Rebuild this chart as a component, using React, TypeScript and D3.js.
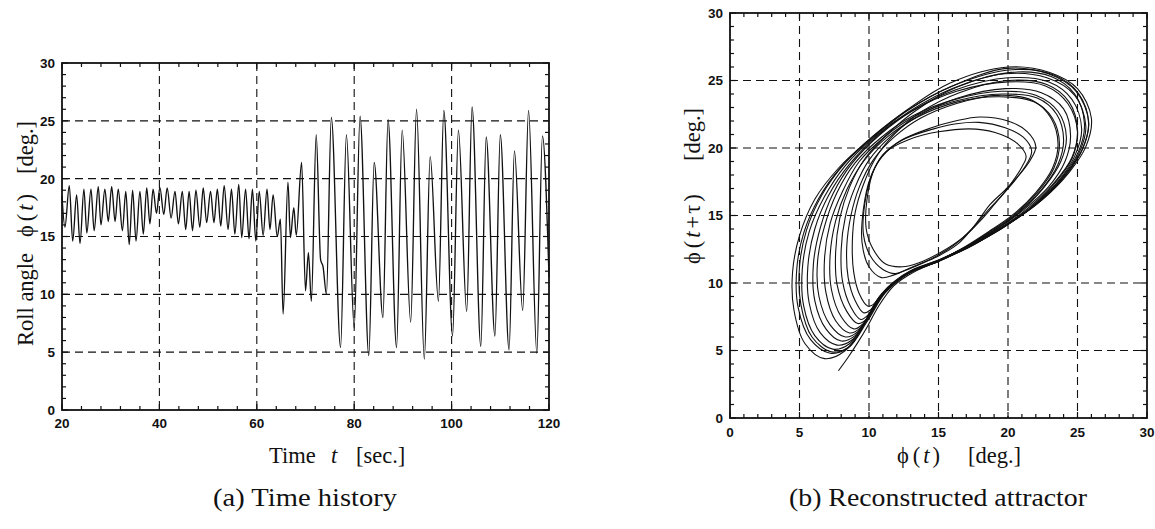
import React from 'react';
import * as d3 from 'd3';

// ---------- data ----------
const timeTicks = [20, 40, 60, 80, 100, 120];
const rollTicks = [0, 5, 10, 15, 20, 25, 30];
const attrTicks = [0, 5, 10, 15, 20, 25, 30];

// time history: turning points (time [s], roll [deg])
const seriesT = [
  20.0, 20.6, 21.5, 22.2, 23.0, 23.7, 24.5, 25.1, 25.95, 26.6, 27.45, 28.0, 28.8, 29.5, 30.2, 30.9,
  31.55, 32.4, 33.1, 33.8, 34.5, 35.2, 36.0, 36.7, 37.4, 38.05, 38.7, 39.4, 40.1, 40.9, 41.6, 42.4,
  43.2, 43.9, 44.7, 45.4, 46.1, 46.8, 47.5, 48.3, 49.0, 49.7, 50.5, 51.2, 51.9, 52.6, 53.3, 54.1,
  54.8, 55.5, 56.3, 56.9, 57.7, 58.4, 59.1, 59.8, 60.5, 61.3, 62.1, 62.7, 63.35, 64.2, 64.85, 65.4,
  66.4, 66.9, 67.6, 68.1, 69.2, 70.0, 70.6, 71.2, 72.2, 73.1, 73.6, 74.3, 75.3, 77.2, 78.4, 80.0,
  81.2, 83.0, 84.1, 85.9, 86.95, 88.7, 89.85, 91.6, 92.8, 94.4, 95.6, 97.3, 98.4, 100.2, 101.4, 103.1,
  104.2, 106.0, 107.1, 108.9, 110.0, 111.8, 112.9, 114.6, 115.8, 117.5, 118.65, 120.0,
];
const seriesRoll = [
  18.5, 15.8, 19.4, 14.6, 18.6, 14.4, 19.1, 15.3, 19.1, 15.5, 19.3, 16.0, 19.1, 16.3, 19.3, 16.3,
  19.1, 15.5, 18.9, 14.3, 19.0, 14.6, 18.9, 15.2, 19.2, 16.1, 19.1, 17.0, 19.25, 16.9, 19.2, 16.6,
  18.9, 16.1, 18.9, 15.6, 18.9, 15.5, 19.0, 15.8, 19.2, 16.2, 18.9, 16.2, 19.1, 15.9, 19.4, 15.6,
  19.1, 15.2, 19.5, 14.9, 19.1, 14.8, 19.1, 14.6, 18.9, 15.1, 19.1, 15.6, 18.6, 15.0, 16.5, 8.3,
  19.7, 14.9, 17.5, 15.1, 21.4, 10.3, 13.6, 9.4, 23.8, 13.0, 12.4, 10.0, 25.3, 5.4, 23.8, 7.1,
  25.4, 4.7, 21.4, 8.0, 25.1, 5.4, 24.2, 7.6, 26.0, 4.4, 21.9, 9.4, 25.9, 6.4, 24.2, 8.5,
  26.2, 5.5, 23.6, 6.4, 23.8, 5.2, 22.4, 8.6, 25.9, 4.9, 23.7, 11.5,
];

// reconstructed attractor: loops [phi(t), phi(t+tau)]
const loop01 = [[20.0,26.0],[23.0,25.6],[25.0,24.4],[26.0,22.2],[25.6,20.1],[24.4,18.2],[22.5,16.2],[20.2,14.5],[17.6,13.0],[15.3,11.8],[13.0,10.9],[11.2,9.4],[9.9,7.3],[8.3,5.0],[6.8,4.4],[5.4,5.5],[4.6,8.0],[4.5,10.8],[5.0,13.5],[6.1,16.2],[7.8,18.5],[10.0,20.6],[12.7,22.8],[15.8,24.8]];
const loop02 = [[20.3,25.8],[23.3,25.4],[25.1,24.0],[25.8,21.8],[25.3,19.8],[24.0,17.8],[22.1,15.9],[19.9,14.3],[17.4,12.8],[15.2,11.7],[13.0,10.8],[11.2,9.3],[9.9,7.2],[8.5,5.2],[7.2,4.8],[5.8,5.8],[4.9,8.2],[4.8,11.0],[5.3,13.7],[6.4,16.3],[8.0,18.6],[10.2,20.7],[12.8,22.8],[16.0,24.6]];
const loop03 = [[19.8,25.5],[22.8,25.2],[24.8,23.9],[25.6,21.6],[25.1,19.6],[23.8,17.6],[21.9,15.7],[19.7,14.2],[17.3,12.7],[15.1,11.7],[12.9,10.8],[11.1,9.3],[9.8,7.3],[8.6,5.5],[7.4,5.1],[6.1,6.1],[5.3,8.3],[5.2,11.0],[5.7,13.8],[6.8,16.4],[8.3,18.7],[10.4,20.8],[12.9,22.7],[16.0,24.4]];
const loop04 = [[20.0,25.2],[22.9,24.9],[24.6,23.6],[25.3,21.4],[24.8,19.4],[23.5,17.4],[21.6,15.5],[19.5,14.0],[17.2,12.7],[15.0,11.6],[12.9,10.8],[11.1,9.3],[9.9,7.4],[8.8,5.8],[7.7,5.4],[6.5,6.3],[5.7,8.5],[5.6,11.2],[6.1,14.0],[7.1,16.5],[8.6,18.8],[10.6,20.9],[13.0,22.7],[16.2,24.3]];
const loop05 = [[20.0,24.9],[22.7,24.6],[24.3,23.3],[25.0,21.2],[24.6,19.2],[23.3,17.3],[21.4,15.4],[19.3,13.9],[17.1,12.6],[14.9,11.6],[12.8,10.7],[11.1,9.3],[10.0,7.6],[9.0,6.1],[8.0,5.7],[6.9,6.6],[6.1,8.7],[6.0,11.4],[6.5,14.1],[7.4,16.6],[8.8,18.9],[10.8,21.0],[13.2,22.8],[16.3,24.2]];
const loop06 = [[19.5,24.2],[22.0,23.9],[23.6,22.7],[24.2,20.8],[23.8,19.0],[22.6,17.1],[20.9,15.3],[19.0,13.9],[16.9,12.6],[14.8,11.6],[12.8,10.7],[11.2,9.4],[10.1,7.8],[9.2,6.4],[8.3,6.0],[7.2,6.9],[6.4,9.0],[6.3,11.6],[6.8,14.2],[7.7,16.7],[9.0,18.9],[10.9,20.8],[13.2,22.4],[16.2,23.6]];
const loop07 = [[19.6,24.0],[22.1,23.7],[23.5,22.5],[24.0,20.6],[23.6,18.8],[22.4,16.9],[20.7,15.2],[18.8,13.8],[16.8,12.6],[14.7,11.5],[12.8,10.7],[11.3,9.5],[10.2,8.0],[9.4,6.7],[8.6,6.3],[7.6,7.2],[6.9,9.3],[6.8,11.8],[7.2,14.4],[8.1,16.8],[9.3,19.0],[11.1,20.8],[13.4,22.4],[16.3,23.5]];
const loop08 = [[19.4,23.8],[21.9,23.4],[23.2,22.2],[23.7,20.3],[23.3,18.5],[22.1,16.7],[20.5,15.1],[18.7,13.8],[16.7,12.5],[14.7,11.5],[12.8,10.7],[11.4,9.6],[10.3,8.2],[9.6,7.0],[8.9,6.6],[8.0,7.5],[7.3,9.5],[7.2,12.0],[7.6,14.6],[8.4,16.9],[9.6,19.0],[11.3,20.8],[13.5,22.3],[16.3,23.4]];
const loop09 = [[20.2,25.6],[23.1,25.3],[24.8,24.0],[25.5,21.8],[25.1,19.8],[23.8,17.7],[21.9,15.8],[19.8,14.2],[17.4,12.8],[15.1,11.7],[12.9,10.8],[11.5,9.7],[10.4,8.4],[9.8,7.3],[9.2,7.0],[8.4,7.9],[7.7,9.9],[7.6,12.3],[7.9,14.8],[8.6,17.1],[9.7,19.2],[11.3,21.0],[13.4,22.8],[16.3,24.5]];
const loop10 = [[19.8,24.4],[22.4,24.1],[24.0,22.9],[24.5,20.9],[24.1,19.0],[22.9,17.1],[21.1,15.4],[19.2,14.0],[17.0,12.7],[14.9,11.6],[12.9,10.8],[11.5,9.8],[10.5,8.6],[9.9,7.6],[9.4,7.3],[8.7,8.2],[8.1,10.1],[8.0,12.5],[8.3,14.9],[9.0,17.1],[10.0,19.1],[11.6,20.9],[13.6,22.4],[16.4,23.7]];
const loop11 = [[19.3,23.9],[21.8,23.5],[23.1,22.2],[23.6,20.3],[23.2,18.5],[22.0,16.7],[20.4,15.1],[18.6,13.8],[16.6,12.5],[14.7,11.5],[12.9,10.8],[11.6,9.9],[10.7,8.9],[10.1,8.0],[9.6,7.8],[9.0,8.7],[8.5,10.4],[8.4,12.7],[8.7,15.0],[9.3,17.1],[10.3,19.1],[11.8,20.8],[13.7,22.2],[16.3,23.3]];
const loop12 = [[20.0,25.0],[22.8,24.7],[24.4,23.4],[25.0,21.3],[24.6,19.3],[23.3,17.4],[21.5,15.6],[19.5,14.1],[17.2,12.7],[15.0,11.6],[13.0,10.9],[11.8,10.1],[10.9,9.2],[10.3,8.4],[9.9,8.3],[9.3,9.2],[8.9,10.8],[8.8,13.0],[9.0,15.2],[9.6,17.3],[10.5,19.3],[11.9,21.1],[13.8,22.7],[16.5,24.1]];
const loop13 = [[17.9,21.9],[19.8,21.5],[21.1,20.8],[21.7,19.8],[21.4,18.9],[20.5,17.6],[19.4,16.3],[18.4,15.2],[17.4,14.0],[16.1,12.8],[14.5,11.8],[12.9,11.1],[11.9,10.7],[11.0,11.0],[10.1,12.0],[9.6,13.6],[9.7,15.9],[10.2,18.0],[11.0,19.5],[12.4,20.6],[14.6,21.4],[16.3,21.8]];
const loop14 = [[17.7,21.4],[19.5,21.0],[20.7,20.3],[21.3,19.4],[21.0,18.6],[20.1,17.2],[19.0,15.8],[18.0,14.6],[16.8,13.4],[15.2,12.3],[13.6,11.5],[12.4,11.2],[11.2,11.4],[10.3,12.5],[9.8,14.0],[9.9,16.5],[10.4,18.5],[11.2,19.7],[12.8,20.6],[15.0,21.2]];
const loop15 = [[18.0,22.3],[20.0,22.0],[21.4,21.2],[22.0,20.1],[21.6,19.1],[20.8,18.0],[19.8,16.9],[18.7,15.8],[17.7,14.4],[16.4,12.9],[14.8,11.9],[13.0,11.1],[11.8,10.6],[10.9,10.4],[10.0,11.2],[9.5,13.0],[9.6,15.5],[10.1,17.8],[10.9,19.3],[12.2,20.5],[14.5,21.5],[16.2,22.0]];
const loop16 = [[19.9,25.9],[22.9,25.5],[24.9,24.2],[25.8,22.0],[25.4,20.0],[24.2,18.1],[22.3,16.1],[20.1,14.5],[17.5,12.9],[15.2,11.8],[12.9,10.8],[11.1,9.3],[9.8,7.2],[8.6,5.3],[7.3,4.9],[5.9,6.0],[5.1,8.4],[5.0,11.2],[5.5,13.9],[6.6,16.5],[8.2,18.8],[10.3,20.9],[12.9,22.9],[16.0,24.6]];
const attractorLoops = [loop01, loop02, loop03, loop04, loop05, loop06, loop07, loop08, loop09, loop10, loop11, loop12, loop13, loop14, loop15, loop16];
const attractorTail = [[7.8,3.5],[8.5,4.5],[9.2,5.6],[9.9,6.8],[10.7,8.3],[11.8,9.8],[13.2,10.8],[15.0,11.6]];

// ---------- layout ----------
const W = 1155;
const H = 529;
const tickFont = '"Liberation Sans", Arial, sans-serif';
const serif = '"Liberation Serif", "Times New Roman", serif';

type Box = { x0: number; x1: number; y0: number; y1: number };

function Frame({ box, xs, ys, xMajor, yMajor, xMinor, yMinor, xLabDy }: any) {
  const b: Box = box;
  const minorLen = 4;
  const majorLen = 6;
  const els: any[] = [];
  xMajor.forEach((v: number, i: number) => {
    const x = xs(v);
    if (i > 0 && i < xMajor.length - 1) {
      els.push(<line key={'gx' + v} x1={x} x2={x} y1={b.y0} y2={b.y1} stroke="#111" strokeWidth={1.1} strokeDasharray="8,5" />);
    }
    els.push(<text key={'lx' + v} x={x} y={b.y1 + xLabDy} textAnchor="middle" fontFamily={tickFont} fontWeight="bold" fontSize={13.5} fill="#111">{v}</text>);
  });
  yMajor.forEach((v: number, i: number) => {
    const y = ys(v);
    if (i > 0 && i < yMajor.length - 1) {
      els.push(<line key={'gy' + v} x1={b.x0} x2={b.x1} y1={y} y2={y} stroke="#111" strokeWidth={1.1} strokeDasharray="8,5" />);
    }
    els.push(<text key={'ly' + v} x={b.x0 - 7} y={y} dy="0.36em" textAnchor="end" fontFamily={tickFont} fontWeight="bold" fontSize={13.5} fill="#111">{v}</text>);
  });
  xMinor.forEach((v: number) => {
    const x = xs(v);
    const len = xMajor.includes(v) ? majorLen : minorLen;
    els.push(<line key={'tb' + v} x1={x} x2={x} y1={b.y1} y2={b.y1 - len} stroke="#111" strokeWidth={1.2} />);
    els.push(<line key={'tt' + v} x1={x} x2={x} y1={b.y0} y2={b.y0 + len} stroke="#111" strokeWidth={1.2} />);
  });
  yMinor.forEach((v: number) => {
    const y = ys(v);
    const len = yMajor.includes(v) ? majorLen : minorLen;
    els.push(<line key={'tl' + v} x1={b.x0} x2={b.x0 + len} y1={y} y2={y} stroke="#111" strokeWidth={1.2} />);
    els.push(<line key={'tr' + v} x1={b.x1} x2={b.x1 - len} y1={y} y2={y} stroke="#111" strokeWidth={1.2} />);
  });
  els.push(<rect key="frame" x={b.x0} y={b.y0} width={b.x1 - b.x0} height={b.y1 - b.y0} fill="none" stroke="#111" strokeWidth={1.8} />);
  return <g>{els}</g>;
}

export default function App() {
  const L: Box = { x0: 62, x1: 549, y0: 63, y1: 410 };
  const R: Box = { x0: 730, x1: 1147, y0: 13, y1: 418 };
  const xL = d3.scaleLinear().domain([20, 120]).range([L.x0, L.x1]);
  const yL = d3.scaleLinear().domain([0, 30]).range([L.y1, L.y0]);
  const xR = d3.scaleLinear().domain([0, 30]).range([R.x0, R.x1]);
  const yR = d3.scaleLinear().domain([0, 30]).range([R.y1, R.y0]);

  const tsLine = d3.line<number>()
    .x((_, i) => xL(seriesT[i]))
    .y((d) => yL(d))
    .curve(d3.curveMonotoneX);
  const tsPath = tsLine(seriesRoll) || '';

  const loopLine = d3.line<number[]>()
    .x((d) => xR(d[0]))
    .y((d) => yR(d[1]))
    .curve(d3.curveCatmullRomClosed.alpha(0.5));
  const tailLine = d3.line<number[]>()
    .x((d) => xR(d[0]))
    .y((d) => yR(d[1]))
    .curve(d3.curveCatmullRom.alpha(0.5));

  const lab = { fontFamily: serif, fontSize: 22.5, fill: '#111' } as any;

  return (
    <svg width={W} height={H} viewBox={`0 0 ${W} ${H}`} style={{ position: 'absolute', left: 0, top: 0, background: '#fff' }}>
      <rect x={0} y={0} width={W} height={H} fill="#fff" />
      {/* left panel */}
      <Frame box={L} xs={xL} ys={yL} xMajor={timeTicks} yMajor={rollTicks}
        xMinor={d3.range(20, 121, 4)} yMinor={d3.range(0, 31, 1)} xLabDy={18} />
      <path d={tsPath} fill="none" stroke="#111" strokeWidth={1.35} strokeLinejoin="round" />
      <g transform="translate(33,0) rotate(-90)">
        <text x={-346} y={0} {...lab}>Roll angle</text>
        <text x={-237} y={0} {...lab}>ϕ<tspan dx={4}>(</tspan><tspan dx={3} fontStyle="italic">t</tspan><tspan dx={3}>)</tspan></text>
        <text x={-174} y={0} {...lab}>[deg.]</text>
      </g>
      <text x={269} y={463} {...lab}>Time</text>
      <text x={331} y={463} {...lab} fontStyle="italic">t</text>
      <text x={356} y={463} {...lab}>[sec.]</text>
      <text x={305} y={506} textAnchor="middle" fontFamily={serif} fontSize={26} fill="#111"
        textLength={184} lengthAdjust="spacingAndGlyphs">(a) Time history</text>

      {/* right panel */}
      <Frame box={R} xs={xR} ys={yR} xMajor={attrTicks} yMajor={attrTicks}
        xMinor={d3.range(0, 31, 1)} yMinor={d3.range(0, 31, 1)} xLabDy={19} />
      <g fill="none" stroke="#111" strokeWidth={1.1} strokeLinejoin="round">
        {attractorLoops.map((lp, i) => (
          <path key={i} d={loopLine(lp as any) || ''} />
        ))}
        <path d={tailLine(attractorTail as any) || ''} />
      </g>
      <g transform="translate(700,0) rotate(-90)">
        <text x={-264} y={0} {...lab}>ϕ<tspan dx={4}>(</tspan><tspan dx={3} fontStyle="italic">t</tspan><tspan dx={3}>+</tspan><tspan dx={2}>τ</tspan><tspan dx={3}>)</tspan></text>
        <text x={-161} y={0} {...lab}>[deg.]</text>
      </g>
      <text x={897} y={463} {...lab}>ϕ<tspan dx={4}>(</tspan><tspan dx={3} fontStyle="italic">t</tspan><tspan dx={3}>)</tspan></text>
      <text x={968} y={463} {...lab}>[deg.]</text>
      <text x={938} y={506} textAnchor="middle" fontFamily={serif} fontSize={26} fill="#111"
        textLength={298} lengthAdjust="spacingAndGlyphs">(b) Reconstructed attractor</text>
    </svg>
  );
}
